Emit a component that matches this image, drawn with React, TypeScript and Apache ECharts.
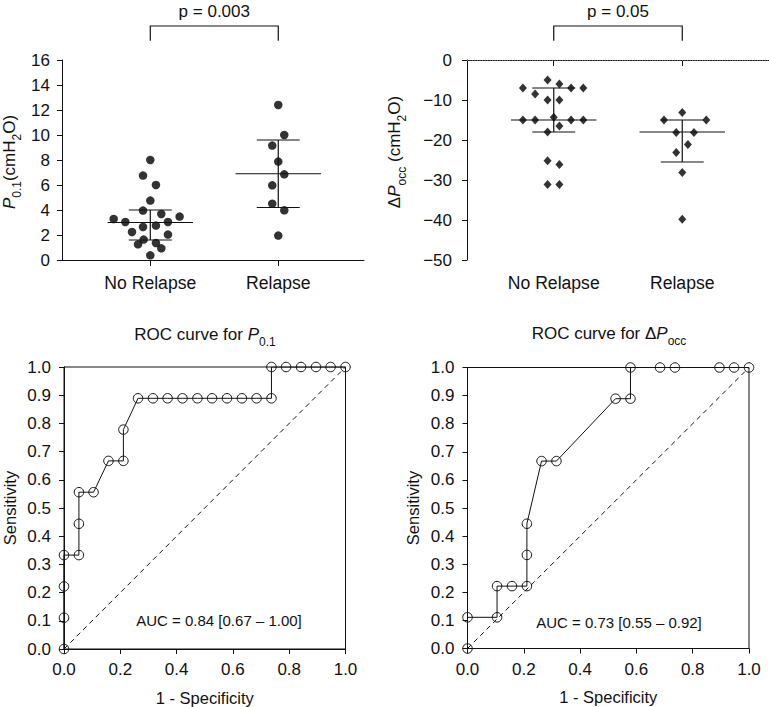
import React, { useEffect, useRef } from "react";
import * as echarts from "echarts";

// ---------- data ----------
const categories = ["No Relapse", "Relapse"];

// P0.1 (cmH2O) scatter values and horizontal jitter (in category units)
const p01NoRelapse = [8.0, 6.75, 6.0, 4.75, 3.95, 3.68, 3.28, 3.04, 3.47, 3.04, 2.64, 2.75, 2.24, 2.03, 1.63, 1.25, 1.36, 0.93, 0.37];
const p01NoRelapseJitter = [0, -0.057, 0.044, 0, -0.057, 0.086, -0.286, -0.195, 0.229, 0.138, -0.057, 0.044, -0.143, 0.138, -0.052, -0.096, 0.044, 0.086, 0];
const p01Relapse = [12.4, 10.0, 9.15, 7.87, 6.85, 5.97, 4.5, 3.97, 1.95];
const p01RelapseJitter = [0, 0.047, -0.047, 0, 0.047, -0.047, -0.047, 0.047, 0];
// [center, low, high] per category
const p01Summary = [
  [3.0, 1.6, 4.0],
  [6.9, 4.2, 9.6],
];

// ΔPocc (cmH2O)
const pOccNoRelapse = [-5, -6, -7, -7, -7, -8.5, -10, -10, -14.3, -15, -15, -15, -15, -16.5, -18, -25.2, -26.1, -31.1, -31.1];
const pOccNoRelapseJitter = [-0.048, 0.044, -0.24, 0.135, 0.23, -0.145, -0.048, 0.044, 0, -0.24, -0.145, 0.135, 0.23, 0.044, -0.048, -0.048, 0.044, -0.048, 0.044];
const pOccRelapse = [-13.1, -15, -15, -18.1, -18.1, -21.1, -23.1, -28.1, -39.8];
const pOccRelapseJitter = [0, -0.142, 0.187, -0.047, 0.091, 0.044, -0.047, 0, 0];
const pOccSummary = [
  [-15, -18, -7],
  [-18, -25.5, -15],
];

const pValues = ["p = 0.003", "p = 0.05"];

// ROC curves
const rocP01Fpr = [0, 0, 0, 0, 0.053, 0.053, 0.053, 0.105, 0.158, 0.211, 0.211, 0.263, 0.316, 0.368, 0.421, 0.474, 0.526, 0.579, 0.632, 0.684, 0.737, 0.737, 0.789, 0.842, 0.895, 0.947, 1];
const rocP01Tpr = [0, 0.111, 0.222, 0.333, 0.333, 0.444, 0.556, 0.556, 0.667, 0.667, 0.778, 0.889, 0.889, 0.889, 0.889, 0.889, 0.889, 0.889, 0.889, 0.889, 0.889, 1, 1, 1, 1, 1, 1];
const rocOccFpr = [0, 0, 0.105, 0.105, 0.158, 0.211, 0.211, 0.211, 0.263, 0.316, 0.526, 0.579, 0.579, 0.684, 0.737, 0.895, 0.947, 1];
const rocOccTpr = [0, 0.111, 0.111, 0.222, 0.222, 0.222, 0.333, 0.444, 0.667, 0.667, 0.889, 0.889, 1, 1, 1, 1, 1, 1];
const aucTexts = ["AUC = 0.84 [0.67 \u2013 1.00]", "AUC = 0.73 [0.55 \u2013 0.92]"];
const diagonal = [[0, 0], [1, 1]];

// ---------- helpers ----------
const FONT = "'Liberation Sans', Arial, Helvetica, sans-serif";
const INK = "#111";

const jittered = (group: number, vals: number[], jit: number[]) =>
  vals.map((v, i) => [group + jit[i], v]);

const summaryData = (s: number[][]) => s.map((r, i) => [i + 1, r[0], r[1], r[2]]);

const richBase = {
  n: { fontSize: 17, fontFamily: FONT, lineHeight: 22, verticalAlign: "top", fill: INK, color: INK },
  i: { fontSize: 17, fontFamily: FONT, fontStyle: "italic", lineHeight: 22, verticalAlign: "top", fill: INK, color: INK },
  s: { fontSize: 12, fontFamily: FONT, lineHeight: 12, verticalAlign: "bottom", fill: INK, color: INK },
};

const summaryRender = (params: any, api: any) => {
  const x = api.value(0);
  const pc = api.coord([x, api.value(1)]);
  const pl = api.coord([x, api.value(2)]);
  const ph = api.coord([x, api.value(3)]);
  const L = 42.7;
  const S = 21.5;
  const st = { stroke: INK, lineWidth: 1.2 };
  return {
    type: "group",
    children: [
      { type: "line", shape: { x1: pc[0] - L, y1: pc[1], x2: pc[0] + L, y2: pc[1] }, style: st },
      { type: "line", shape: { x1: pl[0] - S, y1: pl[1], x2: pl[0] + S, y2: pl[1] }, style: st },
      { type: "line", shape: { x1: ph[0] - S, y1: ph[1], x2: ph[0] + S, y2: ph[1] }, style: st },
      { type: "line", shape: { x1: pl[0], y1: pl[1], x2: ph[0], y2: ph[1] }, style: st },
    ],
  };
};

const axisLine = { show: true, lineStyle: { color: INK, width: 1 } };
const axisTick = { show: true, inside: false, length: 5, lineStyle: { color: INK, width: 1 } };
const labelStyle = { color: INK, fontSize: 17, fontFamily: FONT };

const catXAxis = (gridIndex: number, min: number, max: number) => ({
  type: "value",
  gridIndex,
  min,
  max,
  axisLine,
  axisTick: { ...axisTick, length: 6, customValues: [1, 2] },
  axisLabel: { ...labelStyle, fontSize: 17.6, margin: 14, customValues: [1, 2], formatter: (v: number) => categories[Math.round(v) - 1] || "" },
  splitLine: { show: false },
});

const rocXAxis = (gridIndex: number) => ({
  type: "value",
  gridIndex,
  min: 0,
  max: 1,
  interval: 0.2,
  axisLine,
  axisTick,
  axisLabel: { ...labelStyle, margin: 12, formatter: (v: number) => v.toFixed(1) },
  splitLine: { show: false },
  name: "1 - Specificity",
  nameLocation: "middle",
  nameGap: 40,
  nameTextStyle: { color: INK, fontSize: 16.5, fontFamily: FONT },
});

const rocYAxis = (gridIndex: number) => ({
  type: "value",
  gridIndex,
  min: 0,
  max: 1,
  interval: 0.1,
  axisLine,
  axisTick,
  axisLabel: { ...labelStyle, margin: 13, formatter: (v: number) => v.toFixed(1) },
  splitLine: { show: false },
  name: "Sensitivity",
  nameLocation: "middle",
  nameRotate: 90,
  nameGap: 46,
  nameTextStyle: { color: INK, fontSize: 16.5, fontFamily: FONT },
});

const rocSeries = (idx: number, fpr: number[], tpr: number[]) => ({
  type: "line",
  xAxisIndex: idx,
  yAxisIndex: idx,
  data: fpr.map((f, i) => [f, tpr[i]]),
  symbol: "circle",
  symbolSize: 9.5,
  showAllSymbol: true,
  itemStyle: { color: "rgba(0,0,0,0)", borderColor: INK, borderWidth: 1 },
  lineStyle: { color: INK, width: 1 },
  z: 3,
});

const diagSeries = (idx: number) => ({
  type: "line",
  xAxisIndex: idx,
  yAxisIndex: idx,
  data: diagonal,
  symbol: "none",
  lineStyle: { color: INK, width: 1, type: [5, 4] },
  z: 2,
});

export default function App() {
  const ref = useRef<HTMLDivElement>(null);

  useEffect(() => {
    if (!ref.current) return;
    const chart = echarts.init(ref.current, undefined, { renderer: "svg" });

    const option: any = {
      animation: false,
      backgroundColor: "#fff",
      textStyle: { fontFamily: FONT, color: INK },
      grid: [
        { left: 62, top: 60, width: 302, height: 200 },
        { left: 467, top: 60, width: 302, height: 200 },
        { left: 63, top: 367, width: 282.5, height: 282, show: true, borderColor: INK, borderWidth: 1, backgroundColor: "transparent" },
        { left: 467.5, top: 367.5, width: 281.5, height: 281, show: true, borderColor: INK, borderWidth: 1, backgroundColor: "transparent" },
      ],
      xAxis: [catXAxis(0, 0.31, 2.67), catXAxis(1, 0.325, 2.675), rocXAxis(2), rocXAxis(3)],
      yAxis: [
        {
          type: "value",
          gridIndex: 0,
          min: 0,
          max: 16,
          interval: 2,
          axisLine,
          axisTick,
          axisLabel: { ...labelStyle, margin: 12 },
          splitLine: { show: false },
        },
        {
          type: "value",
          gridIndex: 1,
          min: -50,
          max: 0,
          interval: 10,
          axisLine,
          axisTick,
          axisLabel: { ...labelStyle, margin: 15, formatter: (v: number) => (v < 0 ? "\u2212" + Math.abs(v) : String(v)) },
          splitLine: { show: false },
        },
        rocYAxis(2),
        rocYAxis(3),
      ],
      series: [
        {
          type: "scatter",
          xAxisIndex: 0,
          yAxisIndex: 0,
          data: jittered(1, p01NoRelapse, p01NoRelapseJitter),
          symbol: "circle",
          symbolSize: 8.5,
          itemStyle: { color: "#000" },
        },
        {
          type: "scatter",
          xAxisIndex: 0,
          yAxisIndex: 0,
          data: jittered(2, p01Relapse, p01RelapseJitter),
          symbol: "circle",
          symbolSize: 8.5,
          itemStyle: { color: "#000" },
        },
        {
          type: "custom",
          xAxisIndex: 0,
          yAxisIndex: 0,
          data: summaryData(p01Summary),
          encode: { x: 0, y: 1 },
          renderItem: summaryRender,
          z: 5,
        },
        {
          type: "scatter",
          xAxisIndex: 1,
          yAxisIndex: 1,
          data: jittered(1, pOccNoRelapse, pOccNoRelapseJitter),
          symbol: "diamond",
          symbolSize: [8, 9],
          itemStyle: { color: "#000" },
          markLine: {
            silent: true,
            symbol: "none",
            label: { show: false },
            lineStyle: { color: "#777", width: 1, type: [1, 1.5] },
            data: [{ yAxis: 0 }],
          },
        },
        {
          type: "scatter",
          xAxisIndex: 1,
          yAxisIndex: 1,
          data: jittered(2, pOccRelapse, pOccRelapseJitter),
          symbol: "diamond",
          symbolSize: [8, 9],
          itemStyle: { color: "#000" },
        },
        {
          type: "custom",
          xAxisIndex: 1,
          yAxisIndex: 1,
          data: summaryData(pOccSummary),
          encode: { x: 0, y: 1 },
          renderItem: summaryRender,
          z: 5,
        },
        diagSeries(2),
        rocSeries(2, rocP01Fpr, rocP01Tpr),
        diagSeries(3),
        rocSeries(3, rocOccFpr, rocOccTpr),
      ],
    };
    chart.setOption(option);

    // annotations: brackets with p-values, titles, axis names, AUC
    const graphics: any[] = [];
    [0, 1].forEach((g) => {
      const x1 = chart.convertToPixel({ xAxisIndex: g }, 1) as number;
      const x2 = chart.convertToPixel({ xAxisIndex: g }, 2) as number;
      graphics.push({
        type: "polyline",
        shape: { points: [[x1, 40.7], [x1, 26], [x2, 26], [x2, 40.7]] },
        style: { stroke: INK, lineWidth: 1.2, fill: null },
      });
      graphics.push({
        type: "text",
        x: (x1 + x2) / 2,
        y: 11,
        style: { text: pValues[g], fill: INK, font: `17px ${FONT}`, align: "center", verticalAlign: "middle" },
      });
    });

    graphics.push({
      type: "text",
      x: 11.5,
      y: 162,
      rotation: Math.PI / 2,
      style: {
        text: "{i|P}{s|0.1}{n|(cmH}{s|2}{n|O)}",
        rich: richBase,
        align: "center",
        verticalAlign: "middle",
        fill: INK,
      },
    });
    graphics.push({
      type: "text",
      x: 397,
      y: 152,
      rotation: Math.PI / 2,
      style: {
        text: "{n|\u0394}{i|P}{s|occ}{n| (cmH}{s|2}{n|O)}",
        rich: richBase,
        align: "center",
        verticalAlign: "middle",
        fill: INK,
      },
    });
    graphics.push({
      type: "text",
      x: 205,
      y: 337,
      style: {
        text: "{n|ROC curve for }{i|P}{s|0.1}",
        rich: richBase,
        align: "center",
        verticalAlign: "middle",
        fill: INK,
      },
    });
    graphics.push({
      type: "text",
      x: 609,
      y: 336,
      style: {
        text: "{n|ROC curve for \u0394}{i|P}{s|occ}",
        rich: richBase,
        align: "center",
        verticalAlign: "middle",
        fill: INK,
      },
    });
    graphics.push({
      type: "text",
      x: 219,
      y: 620,
      style: { text: aucTexts[0], fill: INK, font: `15px ${FONT}`, align: "center", verticalAlign: "middle" },
    });
    graphics.push({
      type: "text",
      x: 619,
      y: 622.5,
      style: { text: aucTexts[1], fill: INK, font: `15px ${FONT}`, align: "center", verticalAlign: "middle" },
    });

    chart.setOption({ graphic: graphics });

    return () => chart.dispose();
  }, []);

  return (
    <div
      ref={ref}
      style={{ position: "absolute", left: 0, top: 0, width: 769, height: 707, background: "#fff" }}
    />
  );
}
